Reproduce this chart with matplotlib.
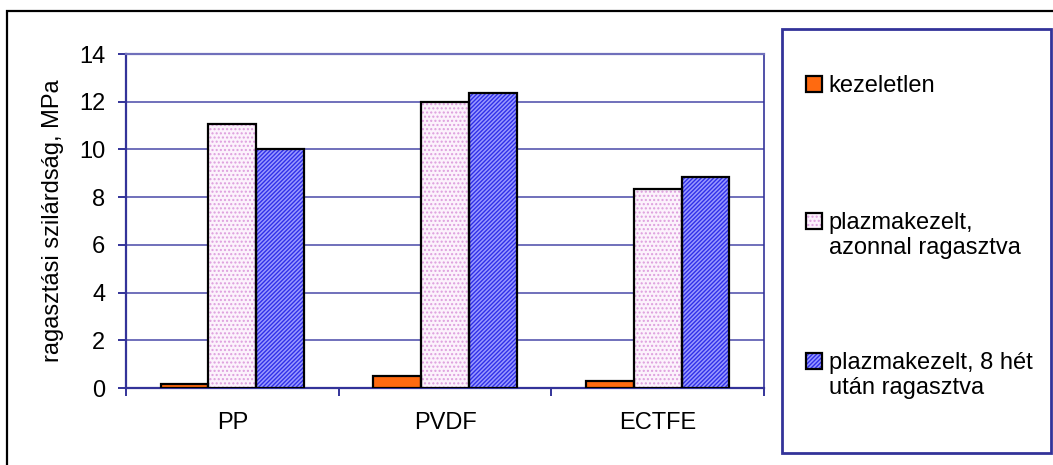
import matplotlib
matplotlib.use("Agg")
import matplotlib.pyplot as plt
from matplotlib.patches import Rectangle
from matplotlib.legend_handler import HandlerTuple
import numpy as np

plt.rcParams['font.family'] = ['Liberation Sans', 'DejaVu Sans']
plt.rcParams['hatch.linewidth'] = 1.0

# Data
categories = ["PP", "PVDF", "ECTFE"]
kezeletlen = [0.15, 0.49, 0.31]
azonnal = [11.05, 11.98, 8.35]
het8 = [10.02, 12.35, 8.86]
series_labels = ["kezeletlen",
                 "plazmakezelt,\nazonnal ragasztva",
                 "plazmakezelt, 8 hét\nután ragasztva"]
yticks = [0, 2, 4, 6, 8, 10, 12, 14]

navy = "#333399"
grid_c = "#7070bb"
FS = 17
W, H = 1053, 465


class FirstLineTuple(HandlerTuple):
    """Tuple handler that lifts the key so it sits beside the first text line."""

    def __init__(self, dy=0.0, **kw):
        super().__init__(**kw)
        self.dy = dy

    def create_artists(self, legend, orig_handle, xdescent, ydescent,
                       width, height, fontsize, trans):
        return super().create_artists(legend, orig_handle, xdescent,
                                      ydescent - self.dy, width, height,
                                      fontsize, trans)


fig = plt.figure(figsize=(W / 100, H / 100), dpi=100)

# outer chart border (left and top edges visible)
fig.patches.append(Rectangle((7 / W, -0.1), 1.2, 1.1 - 11 / H,
                             transform=fig.transFigure, fill=False,
                             edgecolor="black", linewidth=1.6))

ax = fig.add_axes([126 / W, (H - 388) / H, (764 - 126) / W, (388 - 54) / H])

x = np.arange(len(categories))
w = 0.225

styles = [
    dict(data=kezeletlen, off=-w, face="#ff6a10", hatch=None, hc="#ff6a10"),
    dict(data=azonnal, off=0.0, face="#fcf2fc", hatch="....", hc="#dd9edd"),
    dict(data=het8, off=w, face="#9a9aff", hatch="////////", hc="#3030e8"),
]

handles = []
for s in styles:
    fill = ax.bar(x + s["off"], s["data"], w, color=s["face"], hatch=s["hatch"],
                  edgecolor=s["hc"], linewidth=0, zorder=3)
    outline = ax.bar(x + s["off"], s["data"], w, fill=False,
                     edgecolor="black", linewidth=1.6, zorder=4)
    handles.append((fill, outline))

ax.set_xlim(-0.5, 2.5)
ax.set_ylim(0, 14)
ax.set_yticks(yticks)
ax.set_xticks(x)
ax.set_xticklabels(categories)
ax.set_xticks([-0.5, 0.5, 1.5, 2.5], minor=True)
ax.tick_params(axis="x", which="major", length=0, pad=17, labelsize=FS)
ax.tick_params(axis="x", which="minor", length=6, width=1.4, color=navy, direction="out")
ax.tick_params(axis="y", length=6, width=1.4, color=navy, direction="out", pad=9, labelsize=FS)

ax.grid(axis="y", color=grid_c, linewidth=1.4, zorder=0)
ax.set_axisbelow(True)
for side in ["left", "bottom", "right", "top"]:
    ax.spines[side].set_color(navy)
    ax.spines[side].set_linewidth(1.6)
ax.spines["top"].set_color(grid_c)
ax.spines["right"].set_linewidth(1.2)

ax.set_ylabel("ragasztási szilárdság, MPa", fontsize=FS, labelpad=11)

# legend box
fig.patches.append(Rectangle((782 / W, (H - 453) / H), (1051 - 782) / W,
                             (453 - 29) / H, transform=fig.transFigure,
                             fill=False, edgecolor=navy, linewidth=2.0))

# one legend entry per series, each placed at its own slot in the box
key_centres = [89, 225.5, 365.5]
half_line = 14  # px, half of one text line
for h, lab, yc in zip(handles, series_labels, key_centres):
    two_lines = "\n" in lab
    dy = (half_line * 72 / 100) if two_lines else 0.0
    leg = fig.legend([h], [lab], loc="upper left",
                     bbox_to_anchor=(806 / W, (H - (yc - half_line)) / H),
                     frameon=False, fontsize=FS, handlelength=0.66,
                     handleheight=0.66, handletextpad=0.3, borderpad=0,
                     borderaxespad=0, handler_map={h: FirstLineTuple(dy=dy)})

fig.savefig("out.png", dpi=100)
